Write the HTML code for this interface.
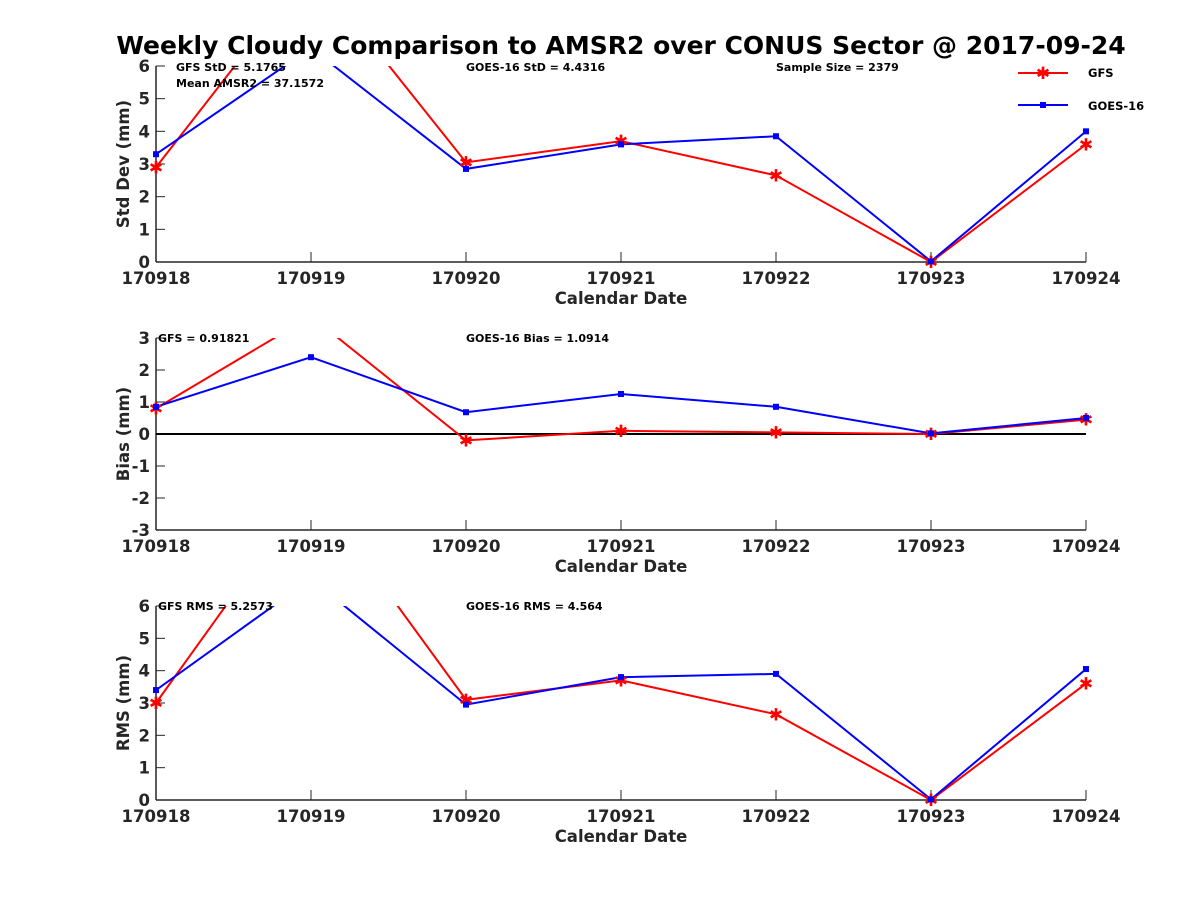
<!DOCTYPE html>
<html><head><meta charset="utf-8"><style>
body{margin:0;background:#fff}
svg{font-family:"DejaVu Sans","Liberation Sans",sans-serif;font-weight:bold}
</style></head><body>
<svg id="c" width="1200" height="900" viewBox="0 0 1200 900">
<rect width="1200" height="900" fill="#fff"/>
<text x="621" y="54" font-size="25" text-anchor="middle">Weekly Cloudy Comparison to AMSR2 over CONUS Sector @ 2017-09-24</text>
<g>
<line x1="1018" y1="73" x2="1068" y2="73" stroke="#f00" stroke-width="2"/>
<text x="1043" y="79" fill="#f00" font-size="17" text-anchor="middle">✱</text>
<text x="1088" y="77" font-size="11.5">GFS</text>
<line x1="1018" y1="105" x2="1068" y2="105" stroke="#00f" stroke-width="2"/>
<rect x="1040" y="102" width="6" height="6" fill="#00f"/>
<text x="1088" y="110" font-size="11.5">GOES-16</text>
</g>
<g id="plots"></g>
</svg>
<script>
const dates = ['170918','170919','170920','170921','170922','170923','170924'];
const stdGFS = [2.9, 9.0, 3.05, 3.7, 2.65, 0, 3.6];
const stdGOES = [3.3, 6.55, 2.85, 3.6, 3.85, 0.02, 4.0];
const biasGFS = [0.8, 3.68, -0.2, 0.1, 0.05, 0, 0.45];
const biasGOES = [0.85, 2.4, 0.68, 1.25, 0.85, 0.02, 0.5];
const rmsGFS = [3.0, 9.68, 3.1, 3.7, 2.65, 0, 3.6];
const rmsGOES = [3.4, 6.84, 2.95, 3.8, 3.9, 0.02, 4.05];
const stdTicks = [0,1,2,3,4,5,6];
const biasTicks = [-3,-2,-1,0,1,2,3];
const rmsTicks = [0,1,2,3,4,5,6];

const NS='http://www.w3.org/2000/svg';
const root=document.getElementById('plots');
function mk(tag,attrs,parent,text){const e=document.createElementNS(NS,tag);for(const k in attrs)e.setAttribute(k,attrs[k]);if(text!==undefined)e.textContent=text;parent.appendChild(e);return e;}
const X0=156,X1=1086;
function xs(i){return X0+(X1-X0)*i/(dates.length-1);}

function panel(id,top,bot,ymin,ymax,ticks,ylabel,gfs,goes,notes,zeroLine){
  const g=mk('g',{},root);
  
  
  const ys=v=>bot-(v-ymin)/(ymax-ymin)*(bot-top);
  const cp=mk('clipPath',{id:'clip-'+id},g);
  mk('rect',{x:X0,y:top,width:X1-X0,height:bot-top},cp);
  mk('line',{x1:X0,y1:top,x2:X0,y2:bot,stroke:'#262626','stroke-width':1.5},g);
  mk('line',{x1:X0,y1:bot,x2:X1,y2:bot,stroke:'#262626','stroke-width':1.5},g);
  ticks.forEach(t=>{
    const y=ys(t);
    mk('line',{x1:X0,y1:y,x2:X0+9,y2:y,stroke:'#262626'},g);
    const tl=mk('text',{x:X0-6,y:y+6,'font-size':16.5,'text-anchor':'end',fill:'#262626'},g,t);
    
    
  });
  dates.forEach((d,i)=>{
    const x=xs(i);
    mk('line',{x1:x,y1:bot,x2:x,y2:bot-10,stroke:'#262626'},g);
    const tl=mk('text',{x:x,y:bot+22,'font-size':16.5,'text-anchor':'middle',fill:'#262626'},g,d);
    
    
  });
  const xl=mk('text',{x:621,y:bot+42,'font-size':16.5,'text-anchor':'middle',fill:'#262626'},g,'Calendar Date');
  
  
  const cy=(top+bot)/2;
  const yl=mk('text',{x:129,y:cy,'font-size':16.5,'text-anchor':'middle',fill:'#262626',transform:`rotate(-90 129 ${cy})`},g,ylabel);
  
  
  const pg=mk('g',{'clip-path':`url(#clip-${id})`},g);
  if(zeroLine) mk('line',{x1:X0,y1:ys(0),x2:X1,y2:ys(0),stroke:'#000','stroke-width':2},pg);
  [[gfs,'#f00','gfs'],[goes,'#00f','goes16']].forEach(([arr,col,nm])=>{
    const pts=arr.map((v,i)=>xs(i)+','+ys(v)).join(' ');
    const pl=mk('polyline',{points:pts,fill:'none',stroke:col,'stroke-width':2},pg);
    
    
  });
  gfs.forEach((v,i)=>{
    if(v>ymax||v<ymin)return;
    const m=mk('text',{x:xs(i),y:ys(v)+6,'font-size':17,'text-anchor':'middle',fill:'#f00'},g,'✱');
    
    
  });
  goes.forEach((v,i)=>{
    if(v>ymax||v<ymin)return;
    const m=mk('rect',{x:xs(i)-3,y:ys(v)-3,width:6,height:6,fill:'#00f'},g);
    
    
  });
  notes.forEach(n=>{
    const t=mk('text',{x:n[0],y:n[1],'font-size':11,fill:'#000'},g,n[2]);
    
    
  });
}
panel('std',66,262,0,6,stdTicks,'Std Dev (mm)',stdGFS,stdGOES,
 [[176,71,'GFS StD = 5.1765'],[176,87,'Mean AMSR2 = 37.1572'],[466,71,'GOES-16 StD = 4.4316'],[776,71,'Sample Size = 2379']],false);
panel('bias',338,530,-3,3,biasTicks,'Bias (mm)',biasGFS,biasGOES,
 [[158,342,'GFS = 0.91821'],[466,342,'GOES-16 Bias  = 1.0914']],true);
panel('rms',606,800,0,6,rmsTicks,'RMS (mm)',rmsGFS,rmsGOES,
 [[158,610,'GFS RMS = 5.2573'],[466,610,'GOES-16 RMS = 4.564']],false);
</script>
</body></html>
